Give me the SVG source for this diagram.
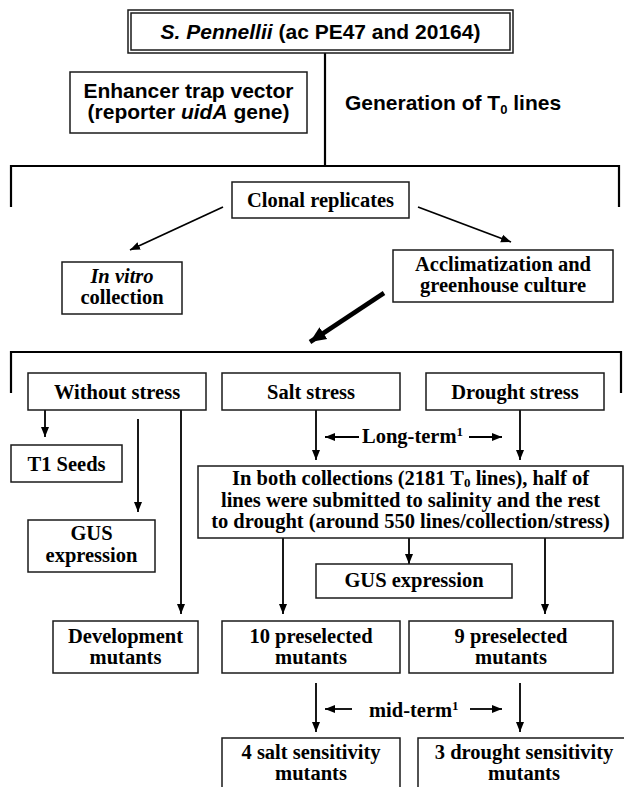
<svg xmlns="http://www.w3.org/2000/svg" width="624" height="787" viewBox="0 0 624 787">
<style>
.box{fill:#fff;stroke:#1a1a1a;stroke-width:1.5}
.ar{font-family:"Liberation Sans",Arial,sans-serif;font-weight:bold;font-size:21px;fill:#000}
.tm{font-family:"Liberation Serif","Times New Roman",serif;font-weight:bold;font-size:20.5px;fill:#000;text-anchor:middle}
.ln{fill:none;stroke:#000;stroke-width:1.8}
.br{fill:none;stroke:#000;stroke-width:2.2}
</style>
<defs>
<marker id="ah" markerUnits="userSpaceOnUse" markerWidth="10" markerHeight="10" viewBox="0 0 10 10" refX="10" refY="5" orient="auto">
<path d="M0,1 L10,5 L0,9 Z" fill="#000"/>
</marker>
<marker id="ahb" markerUnits="userSpaceOnUse" markerWidth="16" markerHeight="16" viewBox="0 0 16 16" refX="16" refY="8" orient="auto">
<path d="M0,1 L16,8 L0,15 Z" fill="#000"/>
</marker>
</defs>
<rect width="624" height="787" fill="#fff"/>

<g id="connectors">
<path class="br" d="M325,53 V166"/>
<path class="br" d="M11,207 V166 H619 V207"/>
<path class="ln" d="M223,207 L130,250" marker-end="url(#ah)"/>
<path class="ln" d="M418,207 L511,242" marker-end="url(#ah)"/>
<path d="M384,293 L310,342" fill="none" stroke="#000" stroke-width="4.5" marker-end="url(#ahb)"/>
<path class="br" d="M11,393 V352 H621 V393"/>
<path class="ln" d="M45,410 V437" marker-end="url(#ah)"/>
<path class="ln" d="M138,419 V512" marker-end="url(#ah)"/>
<path class="ln" d="M181,410 V614" marker-end="url(#ah)"/>
<path class="ln" d="M316,410 V460" marker-end="url(#ah)"/>
<path class="ln" d="M520,410 V460" marker-end="url(#ah)"/>
<path class="ln" d="M359,437 H325" marker-end="url(#ah)"/>
<path class="ln" d="M469,437 H502" marker-end="url(#ah)"/>
<path class="ln" d="M409,538 V564" marker-end="url(#ah)"/>
<path class="ln" d="M283,538 V614" marker-end="url(#ah)"/>
<path class="ln" d="M545,538 V614" marker-end="url(#ah)"/>
<path class="ln" d="M316,683 V732" marker-end="url(#ah)"/>
<path class="ln" d="M520,683 V732" marker-end="url(#ah)"/>
<path class="ln" d="M352,709 H325" marker-end="url(#ah)"/>
<path class="ln" d="M470,709 H502" marker-end="url(#ah)"/>
</g>

<g id="label-long-term">
<text class="tm" x="362" y="443" style="text-anchor:start">Long-term<tspan font-size="13" dy="-7">1</tspan></text>
</g>
<g id="label-mid-term">
<text class="tm" x="369" y="717" style="text-anchor:start">mid-term<tspan font-size="13" dy="-7">1</tspan></text>
</g>

<g id="n-title">
<rect x="128" y="10" width="385" height="43" fill="#fff" stroke="#1a1a1a" stroke-width="1.5"/>
<rect x="131" y="13" width="379" height="37" fill="none" stroke="#1a1a1a" stroke-width="1.5"/>
<text class="ar" x="320.5" y="39" text-anchor="middle"><tspan font-style="italic">S. Pennellii</tspan> (ac PE47 and 20164)</text>
</g>

<g id="n-enhancer">
<rect class="box" x="70" y="72" width="237" height="61"/>
<text class="ar" x="188.5" y="98" text-anchor="middle">Enhancer trap vector</text>
<text class="ar" x="188.5" y="119" text-anchor="middle">(reporter <tspan font-style="italic">uidA</tspan> gene)</text>
</g>

<g id="n-generation">
<text class="ar" x="345" y="110">Generation of T<tspan font-size="13" dy="4">0</tspan><tspan dy="-4"> lines</tspan></text>
</g>

<g id="n-clonal">
<rect class="box" x="232" y="182" width="177" height="36"/>
<text class="tm" x="320.5" y="207">Clonal replicates</text>
</g>

<g id="n-invitro">
<rect class="box" x="62" y="262" width="120" height="52"/>
<text class="tm" x="122" y="283" font-style="italic">In vitro</text>
<text class="tm" x="122" y="304">collection</text>
</g>

<g id="n-acclim">
<rect class="box" x="393" y="250" width="220" height="52"/>
<text class="tm" x="503" y="271">Acclimatization and</text>
<text class="tm" x="503" y="292">greenhouse culture</text>
</g>

<g id="n-without">
<rect class="box" x="28" y="373" width="178" height="37"/>
<text class="tm" x="117" y="399">Without stress</text>
</g>
<g id="n-salt">
<rect class="box" x="222" y="373" width="178" height="37"/>
<text class="tm" x="311" y="399">Salt stress</text>
</g>
<g id="n-drought">
<rect class="box" x="426" y="373" width="178" height="37"/>
<text class="tm" x="515" y="399">Drought stress</text>
</g>

<g id="n-t1seeds">
<rect class="box" x="11" y="445" width="111" height="37"/>
<text class="tm" x="66.5" y="471">T1 Seeds</text>
</g>

<g id="n-gus-left">
<rect class="box" x="28" y="520" width="127" height="52"/>
<text class="tm" x="91.5" y="540">GUS</text>
<text class="tm" x="91.5" y="562">expression</text>
</g>

<g id="n-both">
<rect class="box" x="198" y="466" width="425" height="72"/>
<text class="tm" x="410.5" y="485">In both collections (2181 T<tspan font-size="13" dy="2">0</tspan><tspan dy="-2"> lines), half of</tspan></text>
<text class="tm" x="410.5" y="507">lines were submitted to salinity and the rest</text>
<text class="tm" x="410.5" y="528">to drought (around 550 lines/collection/stress)</text>
</g>

<g id="n-gus-center">
<rect class="box" x="316" y="564" width="196" height="34"/>
<text class="tm" x="414" y="587">GUS expression</text>
</g>

<g id="n-development">
<rect class="box" x="53" y="621" width="145" height="52"/>
<text class="tm" x="125.5" y="643">Development</text>
<text class="tm" x="125.5" y="664">mutants</text>
</g>

<g id="n-10pre">
<rect class="box" x="222" y="621" width="178" height="52"/>
<text class="tm" x="311" y="643">10 preselected</text>
<text class="tm" x="311" y="664">mutants</text>
</g>

<g id="n-9pre">
<rect class="box" x="409" y="621" width="204" height="52"/>
<text class="tm" x="511" y="643">9 preselected</text>
<text class="tm" x="511" y="664">mutants</text>
</g>

<g id="n-4salt">
<rect class="box" x="222" y="738" width="178" height="60"/>
<text class="tm" x="311" y="759">4 salt sensitivity</text>
<text class="tm" x="311" y="780">mutants</text>
</g>

<g id="n-3drought">
<rect class="box" x="418" y="738" width="212" height="60"/>
<text class="tm" x="524" y="759">3 drought sensitivity</text>
<text class="tm" x="524" y="780">mutants</text>
</g>
</svg>
